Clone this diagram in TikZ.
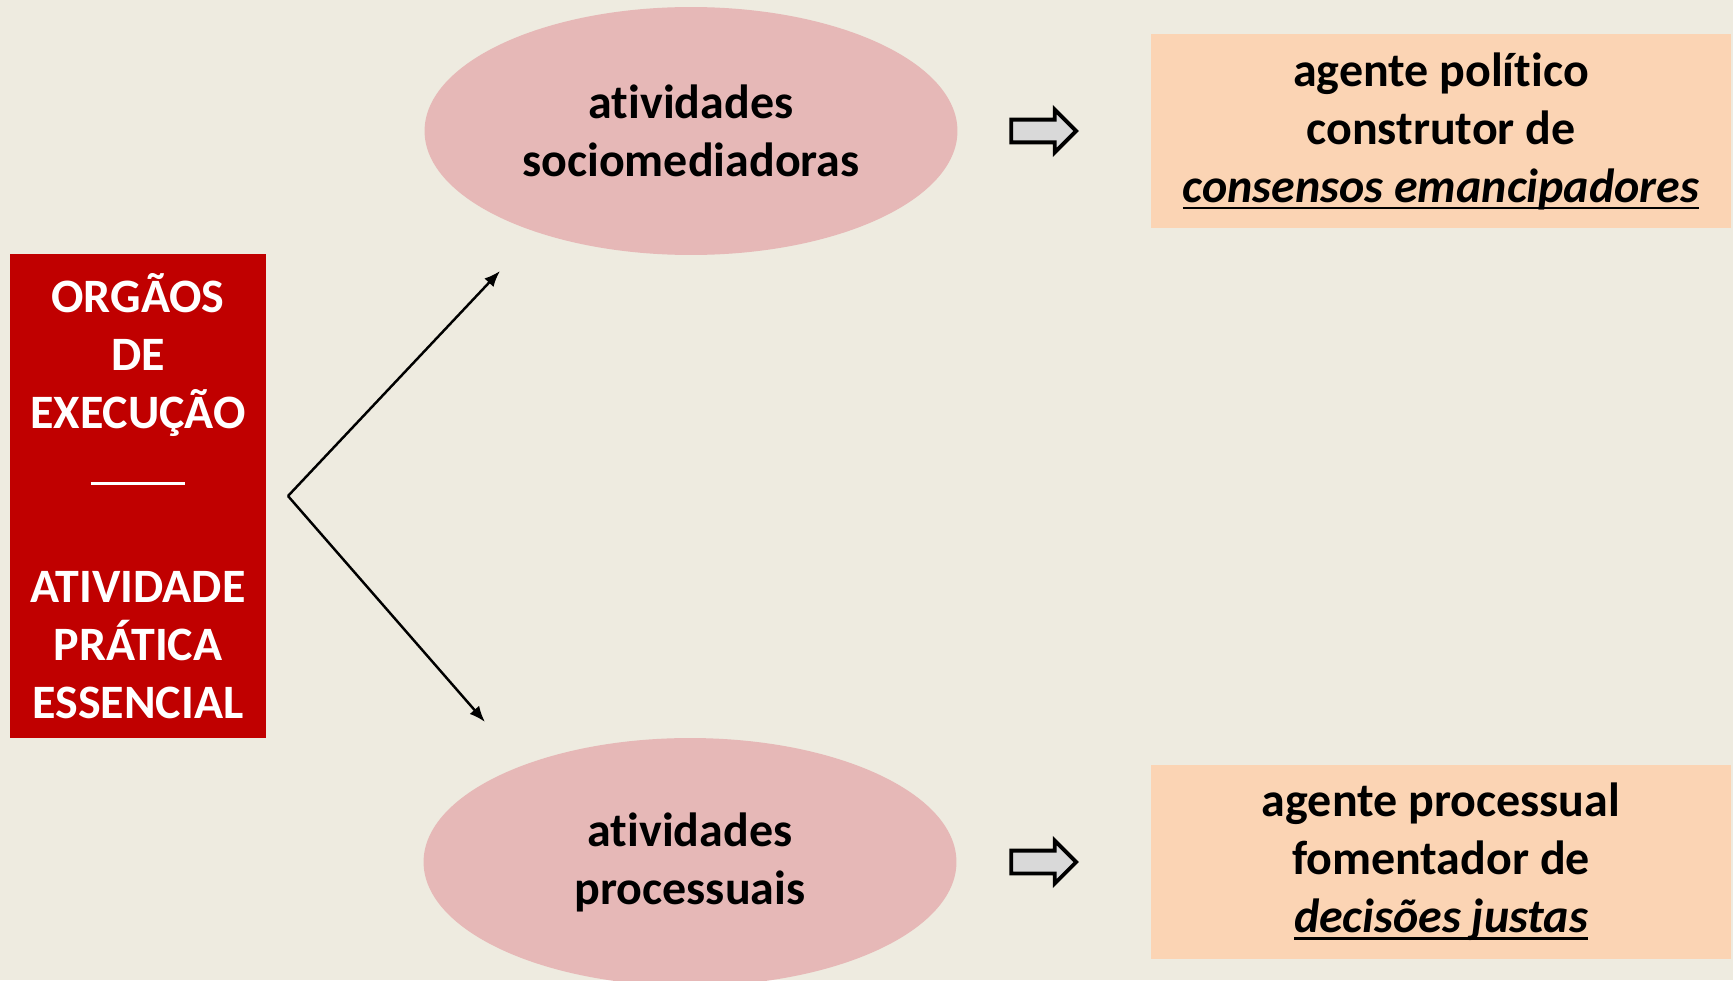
\documentclass[tikz,border=0pt]{standalone}
\usepackage{fontspec}
\setmainfont{Carlito}[Ligatures={NoCommon}]
\usetikzlibrary{arrows.meta, shapes.geometric, shapes.arrows, positioning}
\tikzset{>={Latex[length=0.32cm, width=0.25cm]}}
\definecolor{bgcol}{HTML}{EEEBE0}
\definecolor{redcol}{HTML}{C00000}
\definecolor{pinkcol}{HTML}{E6B8B7}
\definecolor{peachcol}{HTML}{FBD4B4}
\definecolor{greycol}{HTML}{D9D9D9}
\tikzset{big-text/.style = {font=\bfseries\fontsize{27.3}{33}\selectfont, align=center}}
\tikzset{org-box/.style = {big-text, fill=redcol, text=white, minimum width=5.12cm, minimum height=9.68cm, inner sep=0}}
\tikzset{act-ell/.style = {big-text, ellipse, fill=pinkcol, minimum width=10.66cm, minimum height=4.96cm, inner sep=0}}
\tikzset{agent-box/.style = {big-text, fill=peachcol, minimum width=11.6cm, minimum height=3.88cm, inner sep=0}}
\tikzset{fat-arrow/.style = {single arrow, draw, line width=2.2pt, fill=greycol, minimum height=1.3cm, minimum width=0.84cm, inner xsep=0, inner ysep=0.19cm, single arrow head extend=0.2cm}}
\newcommand{\emphu}[1]{\setbox0\hbox{\itshape #1}\rlap{\rule[-0.14cm]{\wd0}{0.05cm}}\box0}

\begin{document}
\begin{tikzpicture}[x=0.02cm, y=-0.02cm]
  \fill[bgcol] (0,0) rectangle (1733,980);
  \useasboundingbox (0,0) rectangle (1733,980);
  \begin{scope}
    \clip (0,0) rectangle (1733,980);
    \node[org-box] (orgaos) at (138,496) {ORGÃOS\\DE\\EXECUÇÃO\\\rule[0.02cm]{1.9cm}{0.066cm}\\\mbox{}\\ATIVIDADE\\PRÁTICA\\ESSENCIAL};
    \node[act-ell] (socio) at (691,131) {atividades\\sociomediadoras};
    \node[act-ell] (proc) at (690,862) {atividades\\processuais};
    \node[fat-arrow] (socioA) at (1038,131) {};
    \node[fat-arrow] (procA) at (1038,862) {};
    \node[agent-box] (politico) at (1441,131) {agente político\\construtor de\\\emphu{consensos emancipadores}};
    \node[agent-box] (processual) at (1441,862) {agente processual\\fomentador de\\\emphu{decisões justas}};
  \end{scope}

  \coordinate (fork) at (288,496);
  \coordinate (upTip) at (500,271);
  \coordinate (downTip) at (485,722);
  \foreach \o in {upTip, downTip}
  {
    \draw[->, line width=1.4pt] (fork) -- (\o);
  }
\end{tikzpicture}
\end{document}
